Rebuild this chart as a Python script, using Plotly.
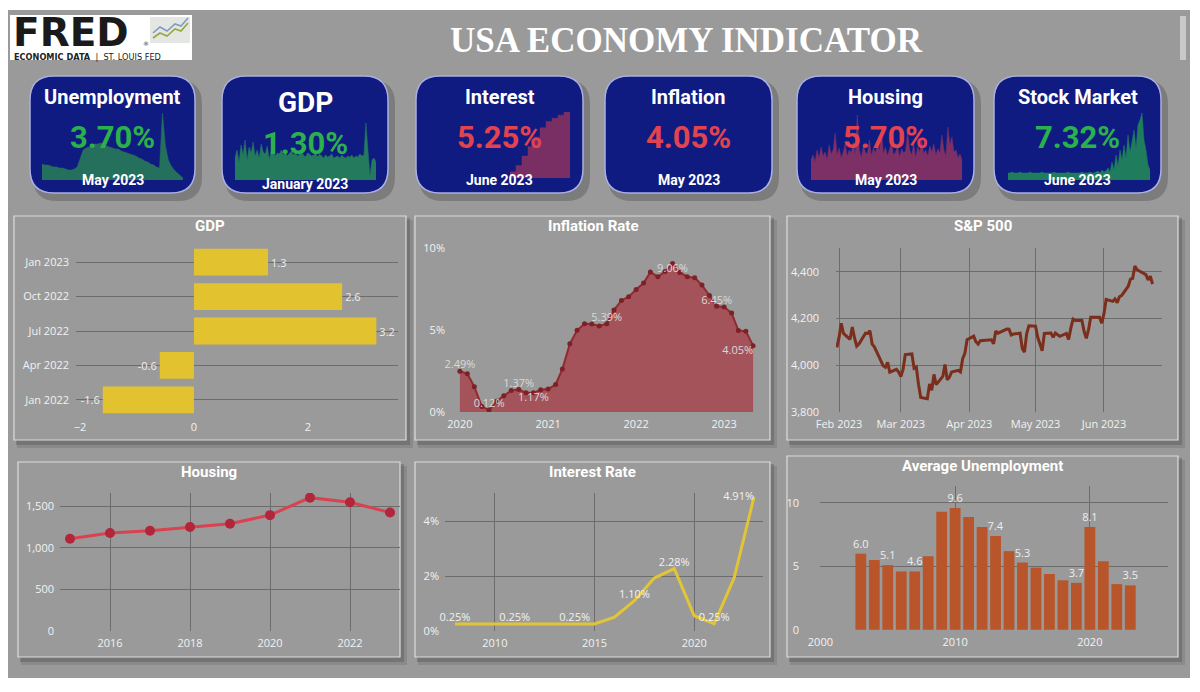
import plotly.graph_objects as go
import pandas as pd

# the page body adds an 8px margin, so the figure is drawn 8px in from the top-left corner
OFF = 8
W, H = 1200 - OFF, 692 - OFF
def X(px): return (px - OFF) / W
def Y(py): return 1 - (py - OFF) / H

# ---------------- DATA ----------------
gdp_quarters = ["Jan 2022", "Apr 2022", "Jul 2022", "Oct 2022", "Jan 2023"]
gdp_growth = [-1.6, -0.6, 3.2, 2.6, 1.3]

inflation_months = [d.strftime("%Y-%m-%d") for d in pd.date_range("2020-01-01", "2023-05-01", freq="MS")]
inflation_rate = [2.49, 2.33, 1.54, 0.33, 0.12, 0.65, 0.99, 1.31, 1.37, 1.18, 1.17, 1.36,
                  1.40, 1.68, 2.62, 4.16, 4.99, 5.39, 5.37, 5.25, 5.39, 6.22, 6.81, 7.04,
                  7.48, 7.87, 8.54, 8.26, 8.58, 9.06, 8.52, 8.26, 8.20, 7.75, 7.11, 6.45,
                  6.41, 6.04, 4.98, 4.93, 4.05]
inflation_labelled = [0, 4, 8, 10, 20, 29, 35, 40]
inflation_label_pos = ["top center", "top center", "top center", "bottom center",
                       "top center", "bottom center", "top center", "bottom left"]

sp_dates = ["2023-01-31", "2023-02-01", "2023-02-02", "2023-02-03", "2023-02-06", "2023-02-07", "2023-02-08",
            "2023-02-09", "2023-02-10", "2023-02-13", "2023-02-14", "2023-02-15", "2023-02-16", "2023-02-17",
            "2023-02-21", "2023-02-22", "2023-02-23", "2023-02-24", "2023-02-27", "2023-02-28", "2023-03-01",
            "2023-03-02", "2023-03-03", "2023-03-06", "2023-03-07", "2023-03-08", "2023-03-09", "2023-03-10",
            "2023-03-13", "2023-03-14", "2023-03-15", "2023-03-16", "2023-03-17", "2023-03-20", "2023-03-21",
            "2023-03-22", "2023-03-23", "2023-03-24", "2023-03-27", "2023-03-28", "2023-03-29", "2023-03-30",
            "2023-03-31", "2023-04-03", "2023-04-04", "2023-04-05", "2023-04-06", "2023-04-10", "2023-04-11",
            "2023-04-12", "2023-04-13", "2023-04-14", "2023-04-17", "2023-04-18", "2023-04-19", "2023-04-20",
            "2023-04-21", "2023-04-24", "2023-04-25", "2023-04-26", "2023-04-27", "2023-04-28", "2023-05-01",
            "2023-05-02", "2023-05-03", "2023-05-04", "2023-05-05", "2023-05-08", "2023-05-09", "2023-05-10",
            "2023-05-11", "2023-05-12", "2023-05-15", "2023-05-16", "2023-05-17", "2023-05-18", "2023-05-19",
            "2023-05-22", "2023-05-23", "2023-05-24", "2023-05-25", "2023-05-26", "2023-05-30", "2023-05-31",
            "2023-06-01", "2023-06-02", "2023-06-05", "2023-06-06", "2023-06-07", "2023-06-08", "2023-06-09",
            "2023-06-12", "2023-06-13", "2023-06-14", "2023-06-15", "2023-06-16", "2023-06-20", "2023-06-21",
            "2023-06-22", "2023-06-23"]
sp_close = [4076.60, 4119.21, 4179.76, 4136.48, 4111.08, 4164.00, 4117.86, 4081.50, 4090.46, 4137.29,
            4136.13, 4147.60, 4090.41, 4079.09, 3997.34, 3991.05, 4012.32, 3970.04, 3982.24, 3970.15,
            3951.39, 3981.35, 4045.64, 4048.42, 3986.37, 3992.01, 3918.32, 3861.59, 3855.76, 3919.29,
            3891.93, 3960.28, 3916.64, 3951.57, 4002.87, 3936.97, 3948.72, 3970.99, 3977.53, 3971.27,
            4027.81, 4050.83, 4109.31, 4124.51, 4100.60, 4090.38, 4105.02, 4109.11, 4108.94, 4091.95,
            4146.22, 4137.64, 4151.32, 4154.87, 4154.52, 4129.79, 4133.52, 4137.04, 4071.63, 4055.99,
            4135.35, 4169.48, 4167.87, 4119.58, 4090.75, 4061.22, 4136.25, 4138.12, 4119.17, 4137.64,
            4130.62, 4124.08, 4136.28, 4109.90, 4158.77, 4198.05, 4191.98, 4192.63, 4145.58, 4115.24,
            4151.28, 4205.45, 4205.52, 4179.83, 4221.02, 4282.37, 4273.79, 4283.85, 4267.52, 4293.93,
            4298.86, 4338.93, 4369.01, 4372.59, 4425.84, 4409.59, 4388.71, 4365.69, 4381.89, 4348.33]

housing_years = [2015, 2016, 2017, 2018, 2019, 2020, 2021, 2022, 2023]
housing_starts = [1112, 1180, 1208, 1252, 1292, 1396, 1607, 1552, 1427]

interest_years = [2008, 2009, 2010, 2011, 2012, 2013, 2014, 2015, 2016, 2017, 2018, 2019, 2020, 2021, 2022, 2023]
interest_rate = [0.25, 0.25, 0.25, 0.25, 0.25, 0.25, 0.25, 0.25, 0.50, 1.10, 1.93, 2.28, 0.55, 0.25, 1.93, 4.91]
interest_labelled = [0, 3, 6, 9, 11, 13, 15]

unemp_years = list(range(2003, 2024))
unemp_avg = [6.0, 5.5, 5.1, 4.6, 4.6, 5.8, 9.3, 9.6, 8.9, 8.1, 7.4, 6.2, 5.3, 4.9, 4.4, 3.9, 3.7, 8.1, 5.4, 3.6, 3.5]
unemp_labelled = [2003, 2005, 2007, 2010, 2013, 2015, 2019, 2020, 2023]

# KPI cards
kpi_titles = ["Unemployment", "GDP", "Interest", "Inflation", "Housing", "Stock Market"]
kpi_values = ["3.70%", "1.30%", "5.25%", "4.05%", "5.70%", "7.32%"]
kpi_dates = ["May 2023", "January 2023", "June 2023", "May 2023", "May 2023", "June 2023"]
kpi_good = [True, True, False, False, False, True]

# sparkline heights (read from the cards)
spark_unemp = [16, 15, 15, 14, 13, 13, 12, 12, 11, 10, 10, 11, 13, 22, 30, 32, 33, 34, 36, 36, 37, 36, 34, 33, 32,
               31, 31, 29, 28, 27, 26, 25, 24, 22, 21, 19, 18, 16, 15, 13, 12, 67, 35, 20, 14, 10, 7, 4, 2]
spark_gdp = [22, 30, 18, 35, 25, 40, 20, 33, 27, 38, 24, 30, 22, 36, 28, 26, 34, 21, 29, 31, 24, 27, 26, 30, 25,
             28, 24, 26, 29, 25, 27, 24, 26, 28, 25, 23, 27, 26, 24, 25, 27, 23, 26, 24, 22, 25, 23, 24, 26, 22,
             23, 24, 22, 25, 23, 22, 24, 23, 25, 22, 24, 23, 26, 24, 25, 57, 30, 4, 20, 22, 18]
spark_interest = [0.5, 1.0, 1.75, 2.5, 3.25, 4.0, 4.5, 4.75, 5.0, 5.25, 5.25]
spark_housing = [20, 25, 18, 30, 22, 33, 24, 28, 20, 35, 26, 30, 47, 25, 32, 22, 28, 36, 24, 30, 27, 38, 25, 65,
                 30, 22, 34, 28, 26, 40, 24, 32, 27, 35, 29, 50, 26, 33, 24, 30, 38, 25, 28, 34, 23, 31, 27, 29,
                 48, 30, 25, 36, 22, 33, 28, 40, 26, 30, 24, 34, 28, 36, 25, 31, 27, 45, 30, 24, 53, 35, 43, 28,
                 30, 22, 26, 20]
spark_stock = [7, 7, 8, 7, 7, 7, 8, 7, 7, 7, 7, 8, 7, 7, 7, 7, 7, 8, 7, 7, 7, 7, 7, 8, 7, 7, 7, 7, 7, 7, 8, 7,
               7, 7, 7, 7, 7, 8, 7, 7, 7, 8, 7, 7, 8, 9, 7, 10, 8, 9, 12, 8, 18, 10, 25, 14, 30, 20, 35, 22, 45,
               28, 38, 50, 32, 55, 60, 67, 40, 30, 15, 10]

# ---------------- STYLE ----------------
CANVAS = "#9a9a9a"
GRID = "#6c6c6c"
TICK = dict(family="Open Sans, sans-serif", size=11, color="#f2f2f2")
NAVY = "#0f1b80"
GREEN = "#2bb14c"
RED = "#e2434f"
HEAD = "Roboto, sans-serif"

fig = go.Figure()
shapes = []
ann = []

def note(x, y, text, **kw):
    d = dict(x=x, y=y, xref="paper", yref="paper", text=text, showarrow=False,
             xanchor="center", yanchor="middle")
    d.update(kw)
    return d

def rect(x0, y0, x1, y1, fill, line=None, lw=0):
    return dict(type="rect", xref="paper", yref="paper", x0=X(x0), y0=Y(y1), x1=X(x1), y1=Y(y0),
                fillcolor=fill, line=dict(color=line or fill, width=lw), layer="below")

def rrect(x0, y0, x1, y1, r, fill, line=None, lw=0):
    p = (f"M {X(x0+r)},{Y(y0)} L {X(x1-r)},{Y(y0)} Q {X(x1)},{Y(y0)} {X(x1)},{Y(y0+r)} "
         f"L {X(x1)},{Y(y1-r)} Q {X(x1)},{Y(y1)} {X(x1-r)},{Y(y1)} L {X(x0+r)},{Y(y1)} "
         f"Q {X(x0)},{Y(y1)} {X(x0)},{Y(y1-r)} L {X(x0)},{Y(y0+r)} Q {X(x0)},{Y(y0)} {X(x0+r)},{Y(y0)} Z")
    return dict(type="path", xref="paper", yref="paper", path=p, fillcolor=fill,
                line=dict(color=line or fill, width=lw), layer="below")

# canvas
shapes.append(rect(8, 10, 1190, 678, CANVAS))
shapes.append(rect(1180, 16, 1186, 60, "#c9c9c9"))

# panels
panels = [(14, 216, 406, 440, "GDP", 226), (415, 216, 770, 440, "Inflation Rate", 226),
          (787, 216, 1178, 440, "S&P 500", 226), (18, 462, 400, 657, "Housing", 472),
          (415, 462, 770, 657, "Interest Rate", 472), (787, 456, 1178, 657, "Average Unemployment", 466)]
for (x0, y0, x1, y1, t, ty) in panels:
    shapes.append(rect(x0 + 3, y0 + 4, x1 + 7, y1 + 8, "rgba(80,80,80,0.22)"))
    shapes.append(rect(x0 + 2, y0 + 2, x1 + 4, y1 + 5, "rgba(70,70,70,0.32)"))
    shapes.append(rect(x0, y0, x1, y1, CANVAS, "#dcdcdc", 1.2))
    ann.append(note(X((x0 + x1) / 2), Y(ty), f"<b>{t}</b>", font=dict(family=HEAD, size=15, color="white")))

# KPI cards
cards = [(30, 76, 195, 193), (222, 76, 388, 193), (416, 76, 583, 193),
         (605, 76, 772, 193), (797, 76, 974, 193), (994, 76, 1161, 193)]
for i, (x0, y0, x1, y1) in enumerate(cards):
    shapes.append(rrect(x0 + 3, y0 + 4, x1 + 7, y1 + 8, 24, "rgba(70,70,70,0.35)"))
    shapes.append(rrect(x0, y0, x1, y1, 24, NAVY, "#aab0e2", 1.5))
    cx = X((x0 + x1) / 2)
    big = kpi_titles[i] == "GDP"
    ann.append(note(cx, Y(102 if big else 97), f"<b>{kpi_titles[i]}</b>",
                    font=dict(family=HEAD, size=28 if big else 20, color="white")))
    ann.append(note(cx, Y(143 if big else 138), f"<b>{kpi_values[i]}</b>",
                    font=dict(family=HEAD, size=31, color=GREEN if kpi_good[i] else RED)))
    ann.append(note(cx, Y(184 if big else 180), f"<b>{kpi_dates[i]}</b>",
                    font=dict(family=HEAD, size=14, color="white")))

# logo
shapes.append(rect(10, 15, 192, 60, "white"))
shapes.append(rect(150, 17, 190, 43, "#e4e6e4"))
shapes.append(dict(type="path", xref="paper", yref="paper", layer="above",
                   path=f"M {X(153)},{Y(33)} L {X(160)},{Y(27)} L {X(167)},{Y(31)} L {X(175)},{Y(24)} L {X(181)},{Y(26)} L {X(188)},{Y(18)}",
                   line=dict(color="#7f9cc4", width=1.6)))
shapes.append(dict(type="path", xref="paper", yref="paper", layer="above",
                   path=f"M {X(153)},{Y(38)} L {X(160)},{Y(33)} L {X(167)},{Y(36)} L {X(175)},{Y(29)} L {X(181)},{Y(31)} L {X(188)},{Y(23)}",
                   line=dict(color="#93a93c", width=1.6)))
ann.append(note(X(11), Y(32.5), "<b>FRED</b>", xanchor="left",
                font=dict(family="DejaVu Sans, sans-serif", size=39, color="#1a1a1a")))
ann.append(note(X(141), Y(44), "®", xanchor="left", font=dict(family="DejaVu Sans", size=6, color="#333")))
ann.append(note(X(12), Y(56.5), "<b>ECONOMIC DATA</b>  |  ST. LOUIS FED", xanchor="left",
                font=dict(family="DejaVu Sans", size=8.2, color="#222")))

# title
ann.append(note(X(686), Y(40), "<b>USA ECONOMY INDICATOR</b>",
                font=dict(family="Liberation Serif, serif", size=35, color="white")))

# ---------------- AXES ----------------
def xax(x0, x1, **kw):
    d = dict(domain=[X(x0), X(x1)], showgrid=False, zeroline=False, showline=False, ticks="",
             tickfont=TICK, fixedrange=True, gridcolor=GRID, gridwidth=1, automargin=False)
    d.update(kw)
    return d

def yax(top, bottom, **kw):
    d = dict(domain=[Y(bottom), Y(top)], showgrid=False, zeroline=False, showline=False, ticks="",
             tickfont=TICK, fixedrange=True, gridcolor=GRID, gridwidth=1, automargin=False)
    d.update(kw)
    return d

lay = {}
# 1 GDP
lay["xaxis"] = xax(76, 398, range=[-2.07, 3.58], tickvals=[-2, 0, 2], anchor="y", ticklabelstandoff=2)
lay["yaxis"] = yax(245, 417, type="category", categoryorder="array", categoryarray=gdp_quarters,
                   range=[-0.5, 4.5], showgrid=True, anchor="x", ticklabelstandoff=6)
# 2 Inflation
lay["xaxis2"] = xax(450, 762, type="date", range=["2019-11-21", "2023-06-07"], dtick="M12",
                    tick0="2020-01-01", tickformat="%Y", anchor="y2", ticklabelstandoff=4)
lay["yaxis2"] = yax(240, 412, range=[0, 10.5], tickvals=[0, 5, 10], ticktext=["0%", "5%", "10%"],
                    anchor="x2", ticklabelstandoff=4)
# 3 S&P
lay["xaxis3"] = xax(836, 1162, type="date", range=["2023-01-30 15:00", "2023-06-27 07:00"], dtick="M1",
                    tick0="2023-02-01", tickformat="%b %Y", showgrid=True, anchor="y3", ticklabelstandoff=4)
lay["yaxis3"] = yax(248, 412, range=[3799, 4503], tickvals=[3800, 4000, 4200, 4400],
                    ticktext=["3,800", "4,000", "4,200", "4,400"],
                    showgrid=True, anchor="x3", ticklabelstandoff=16)
# 4 Housing
lay["xaxis4"] = xax(60, 400, range=[2014.75, 2023.25], tickvals=[2016, 2018, 2020, 2022], showgrid=True,
                    anchor="y4", ticklabelstandoff=4)
lay["yaxis4"] = yax(493, 631, range=[-2, 1663], tickvals=[0, 500, 1000, 1500],
                    ticktext=["0", "500", "1,000", "1,500"],
                    showgrid=True, anchor="x4", ticklabelstandoff=5)
# 5 Interest
lay["xaxis5"] = xax(445, 763, range=[2007.5, 2023.45], tickvals=[2010, 2015, 2020], showgrid=True,
                    anchor="y5", ticklabelstandoff=4)
lay["yaxis5"] = yax(493, 631, range=[-0.01, 5.05], tickvals=[0, 2, 4], ticktext=["0%", "2%", "4%"],
                    showgrid=True, anchor="x5", ticklabelstandoff=5)
# 6 Avg unemployment
lay["xaxis6"] = xax(820, 1168, range=[1999.97, 2025.8], tickvals=[2000, 2010, 2020], showgrid=True,
                    anchor="y6", ticklabelstandoff=4)
lay["yaxis6"] = yax(486, 630, range=[-0.02, 11.34], tickvals=[0, 5, 10], showgrid=True, anchor="x6",
                    ticklabelstandoff=20)

# sparklines axes
spark_specs = [  # (axis idx, x0, x1, top, bottom, yrange)
    (7, 42, 183, 110, 180, [0, 70]),
    (8, 235, 376, 110, 180, [0, 70]),
    (9, 510, 570, 112, 178, [0, 5.25]),
    (10, 811, 962, 110, 180, [0, 70]),
    (11, 1008, 1150, 110, 180, [0, 70]),
]
spark_data = [spark_unemp, spark_gdp, spark_interest, spark_housing, spark_stock]
spark_cols = ["#25705c", "#237a5c", "#7a2f64", "#7d3066", "#1f7d5e"]
for (idx, x0, x1, t, b, yr), vals, col in zip(spark_specs, spark_data, spark_cols):
    lay[f"xaxis{idx}"] = xax(x0, x1, range=[0, len(vals) - 1], visible=False, anchor=f"y{idx}")
    lay[f"yaxis{idx}"] = yax(t, b, range=yr, visible=False, anchor=f"x{idx}")
    fig.add_trace(go.Scatter(x=list(range(len(vals))), y=vals, xaxis=f"x{idx}", yaxis=f"y{idx}",
                             mode="lines", fill="tozeroy", fillcolor=col,
                             line=dict(color=col, width=0.5, shape="hv" if idx == 9 else "linear"),
                             hoverinfo="skip"))

# ---------------- TRACES ----------------
fig.add_trace(go.Bar(y=gdp_quarters, x=gdp_growth, orientation="h", marker=dict(color="#e3c22f", line_width=0),
                     width=0.78, text=[f"{v:.1f}" for v in gdp_growth], textposition="outside",
                     constraintext="none",
                     textfont=dict(family="Open Sans", size=11, color="#eeeeee"), cliponaxis=False,
                     xaxis="x", yaxis="y"))

fig.add_trace(go.Scatter(x=inflation_months, y=inflation_rate, mode="lines+markers", fill="tozeroy",
                         fillcolor="#a4535b", line=dict(color="#93292f", width=2),
                         marker=dict(size=5, color="#7c2226"), xaxis="x2", yaxis="y2"))
fig.add_trace(go.Scatter(x=[inflation_months[i] for i in inflation_labelled],
                         y=[inflation_rate[i] for i in inflation_labelled],
                         text=[f"{inflation_rate[i]:.2f}%" for i in inflation_labelled],
                         textposition=inflation_label_pos, mode="text", cliponaxis=False,
                         textfont=dict(family="Open Sans", size=11, color="#d9d9d9"), xaxis="x2", yaxis="y2"))

fig.add_trace(go.Scatter(x=sp_dates, y=sp_close, mode="lines", line=dict(color="#7a2e1b", width=3),
                         xaxis="x3", yaxis="y3"))

fig.add_trace(go.Scatter(x=housing_years, y=housing_starts, mode="lines+markers",
                         line=dict(color="#d8434f", width=3), marker=dict(size=10, color="#b1263b"),
                         xaxis="x4", yaxis="y4"))

fig.add_trace(go.Scatter(x=interest_years, y=interest_rate, mode="lines", line=dict(color="#e2c535", width=3),
                         xaxis="x5", yaxis="y5"))
fig.add_trace(go.Scatter(x=[interest_years[i] for i in interest_labelled],
                         y=[interest_rate[i] for i in interest_labelled],
                         text=[f"{interest_rate[i]:.2f}%" for i in interest_labelled],
                         textposition=["top center"] * 6 + ["middle left"], mode="text", cliponaxis=False,
                         textfont=dict(family="Open Sans", size=11, color="#f2f2f2"), xaxis="x5", yaxis="y5"))

fig.add_trace(go.Bar(x=unemp_years, y=unemp_avg, marker=dict(color="#b8552a", line_width=0), width=0.8,
                     text=[f"{v:.1f}" if yr in unemp_labelled else "" for yr, v in zip(unemp_years, unemp_avg)],
                     textposition="outside", cliponaxis=False, constraintext="none",
                     textfont=dict(family="Open Sans", size=11, color="#eeeeee"), xaxis="x6", yaxis="y6"))

fig.update_layout(template="none", width=W, height=H, margin=dict(l=0, r=0, t=0, b=0, autoexpand=False),
                  autosize=False, showlegend=False,
                  paper_bgcolor="white", plot_bgcolor="rgba(0,0,0,0)", shapes=shapes, annotations=ann,
                  hovermode=False, **lay)

fig.write_html("out.html", config={"displayModeBar": False})
